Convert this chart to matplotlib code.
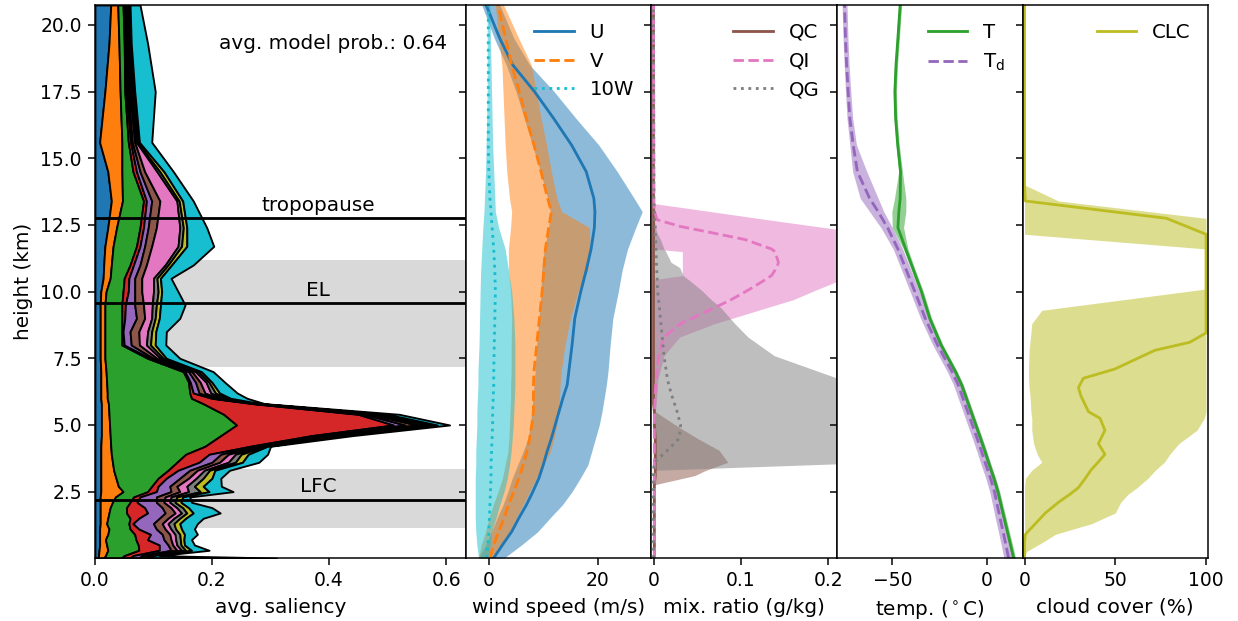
import numpy as np
import matplotlib.pyplot as plt

# --- saliency (panel 1), stacked per input variable ---
h_sal = [0.01, 0.1, 0.3, 0.5, 0.7, 0.9, 1.1, 1.3, 1.5, 1.7, 1.9, 2.1, 2.3, 2.5, 2.7,
         3.0, 3.3, 3.6, 3.9, 4.2, 4.6, 5.0, 5.4, 5.8, 6.0, 6.2, 6.6, 7.0, 7.5, 8.0,
         8.5, 9.0, 9.5, 10.0, 10.5, 11.0, 11.7, 12.4, 13.4, 14.5, 15.6, 17.5, 19.3, 20.75]

sal_blue = [.006, .006, .007, .008, .008, .008, .008, .009, .009, .009, .009,
            .009, .009, .010, .010, .010, .010, .010, .010, .010, .011, .011, .011, .011,
            .010, .010, .010, .010, .009, .009, .009, .009, .009, .010,
            .014, .015, .017, .022, .028, .022, .008, .017, .024, .027]
sal_orange = [.009, .012, .015, .012, .010, .014, .016, .011, .013, .015, .017,
              .021, .026, .038, .030, .026, .022, .020, .018, .017, .015, .014, .013, .012,
              .011, .011, .010, .009, .008, .008, .008, .008, .008, .009,
              .012, .013, .014, .015, .019, .024, .038, .026, .017, .012]
sal_green = [.030, .032, .053, .054, .052, .046, .036, .038, .038, .030, .028,
             .030, .031, .042, .057, .072, .093, .110, .127, .161, .189, .217, .196, .162,
             .144, .141, .140, .132, .073, .029, .029, .029, .029, .029,
             .024, .032, .040, .040, .036, .019, .011, .008, .009, .009]
sal_red = [.015, .015, .035, .036, .020, .027, .015, .007, .015, .036, .031,
           .012, .011, .015, .011, .014, .017, .038, .040, .077, .155, .268, .230, .085,
           .035, .006, .003, .003, .005, .004, .002, .005, .006, .009,
           .008, .006, .006, .006, .005, .006, .004, .003, .003, .003]
sal_purple = [.015, .015, .020, .015, .028, .020, .030, .035, .035, .030, .030,
              .033, .028, .025, .020, .023, .020, .022, .020, .007, .015, .020, .010, .004,
              .005, .010, .009, .006, .005, .012, .012, .020, .016, .011,
              .010, .011, .008, .008, .009, .006, .003, .003, .002, .002]
sal_brown = [.005, .005, .010, .008, .012, .013, .015, .015, .015, .017, .015,
             .013, .015, .015, .012, .015, .013, .013, .013, .006, .010, .020, .010, .003,
             .007, .010, .008, .006, .006, .014, .015, .014, .015, .012,
             .012, .011, .012, .014, .014, .008, .004, .003, .002, .002]
sal_pink = [.005, .005, .008, .007, .008, .009, .010, .010, .010, .011, .010,
            .010, .010, .015, .017, .013, .012, .015, .012, .006, .010, .015, .010, .003,
            .008, .010, .010, .006, .006, .012, .015, .012, .015, .020,
            .020, .032, .045, .040, .029, .021, .003, .003, .002, .002]
sal_gray = [.005, .005, .007, .007, .008, .008, .008, .010, .010, .009, .010,
            .009, .010, .020, .013, .012, .009, .012, .010, .006, .007, .010, .010, .002,
            .006, .008, .005, .005, .005, .007, .007, .006, .007, .008,
            .006, .005, .006, .006, .004, .005, .002, .002, .001, .001]
sal_olive = [.005, .005, .010, .006, .006, .008, .010, .010, .010, .011, .010,
             .010, .010, .015, .015, .015, .009, .012, .012, .005, .008, .010, .010, .002,
             .006, .007, .005, .005, .005, .008, .007, .007, .007, .006,
             .006, .006, .009, .006, .006, .007, .003, .003, .002, .002]
sal_cyan = [.215, .010, .030, .017, .013, .022, .022, .030, .030, .046, .040,
            .018, .012, .041, .031, .015, .025, .028, .033, .005, .020, .021, .020, .006,
            .028, .030, .022, .020, .023, .018, .018, .035, .042, .028,
            .018, .037, .046, .034, .018, .016, .021, .035, .028, .017]

model_prob = 0.64
tropopause = 12.75
el_height = 9.56
lfc_height = 2.2
el_band = (7.16, 11.18)
lfc_band = (1.15, 3.33)

# --- profiles (panels 2 and 4) ---
h_prof = [0.01, 0.5, 1.0, 1.5, 2.0, 2.5, 3.0, 3.5, 4.0, 4.5, 5.0, 5.5, 6.0, 6.5, 7.0,
          8.0, 9.0, 10.0, 10.8, 11.6, 12.4, 13.0, 13.5, 14.5, 15.5, 16.5, 17.5, 18.5, 19.5, 20.75]

u_mean = [0.9, 2.5, 4.2, 5.5, 6.9, 8.1, 9.2, 10.0, 10.7, 11.5, 12.2, 12.9, 13.6, 14.4, 14.7,
          15.3, 15.8, 16.9, 17.9, 18.8, 19.4, 19.5, 19.3, 17.9, 15.2, 11.9, 8.4, 4.4, 2.0, -0.5]
u_lo = [-1.9, -0.6, 0.5, 1.5, 2.6, 3.5, 4.3, 5.3, 6.3, 7.2, 7.6, 7.9, 8.1, 8.3, 8.5,
        8.8, 9.2, 9.6, 9.7, 10.2, 11.0, 11.3, 10.8, 9.5, 8.0, 6.5, 5.0, 3.2, 1.0, -1.3]
u_hi = [2.8, 6.0, 9.0, 11.2, 13.5, 15.3, 16.8, 18.2, 18.9, 19.6, 20.3, 20.8, 21.2, 21.6, 21.9,
        22.3, 22.8, 23.8, 24.5, 25.5, 27.0, 28.2, 26.7, 23.6, 20.2, 16.0, 12.0, 7.5, 4.6, 2.0]

v_mean = [0.2, 0.9, 1.8, 2.8, 3.6, 4.6, 5.5, 6.3, 7.0, 7.5, 7.9, 8.2, 8.2, 8.2, 8.3,
          8.8, 9.3, 9.8, 10.1, 10.4, 11.0, 11.5, 10.8, 9.6, 8.3, 6.9, 5.6, 4.2, 3.1, 1.7]
v_lo = [-1.9, -1.4, -0.6, 0.0, 0.8, 1.7, 2.5, 3.0, 3.5, 3.7, 3.8, 3.9, 4.0, 4.0, 4.1,
        4.1, 4.2, 4.0, 3.6, 3.6, 4.0, 4.2, 3.8, 3.3, 3.0, 2.8, 2.6, 2.4, 1.8, 1.2]
v_hi = [0.5, 2.3, 3.8, 5.0, 6.3, 7.5, 8.7, 10.0, 11.3, 12.0, 12.5, 12.8, 13.0, 13.1, 13.3,
        14.0, 15.0, 16.4, 18.2, 18.6, 18.5, 13.4, 12.5, 11.5, 10.6, 9.6, 8.7, 7.8, 5.5, 2.7]

w_mean = [-0.4, -0.2, 0.0, 0.1, 0.2, 0.3, 0.4, 0.4, 0.5, 0.6, 0.7, 0.7, 0.8, 0.9, 0.9,
          1.0, 1.1, 1.2, 1.1, 0.9, 0.6, 0.4, 0.2, 0.0, -0.1, -0.1, -0.1, -0.1, -0.1, -0.1]
w_lo = [-1.9, -2.2, -2.4, -2.5, -2.5, -2.5, -2.5, -2.4, -2.4, -2.3, -2.2, -2.2, -2.1, -2.0, -2.0,
        -1.8, -1.7, -1.6, -1.5, -1.3, -1.1, -0.9, -0.8, -0.6, -0.5, -0.4, -0.3, -0.3, -0.3, -0.3]
w_hi = [-0.2, 0.3, 0.5, 1.3, 2.0, 2.8, 3.4, 3.8, 4.1, 4.3, 4.5, 4.6, 4.7, 4.8, 4.8,
        4.8, 4.6, 4.2, 3.6, 3.0, 1.8, 1.2, 1.1, 0.9, 0.7, 0.6, 0.5, 0.4, 0.3, 0.2]

t_mean = [14.4, 12.8, 11.1, 9.4, 7.7, 6.0, 3.9, 1.5, -0.8, -3.2, -5.7, -8.2, -10.7, -13.2, -16.5,
          -24.1, -30.1, -34.5, -38.7, -42.9, -47.0, -46.5, -45.8, -45.6, -47.1, -48.2, -48.6, -48.0, -47.0, -45.8]
t_lo = [13.4, 11.8, 10.1, 8.4, 6.7, 5.0, 2.9, 0.5, -1.8, -4.2, -6.7, -9.2, -11.7, -14.2, -17.5,
        -25.1, -31.1, -35.5, -39.7, -44.1, -50.0, -50.2, -48.8, -46.6, -47.9, -49.0, -49.4, -48.8, -47.8, -46.6]
t_hi = [15.4, 13.8, 12.1, 10.4, 8.7, 7.0, 4.9, 2.5, 0.2, -2.2, -4.7, -7.2, -9.7, -12.2, -15.5,
        -23.1, -29.1, -33.5, -37.7, -41.7, -44.0, -42.8, -42.8, -44.6, -46.3, -47.4, -47.8, -47.2, -46.2, -45.0]

td_mean = [11.7, 10.3, 8.8, 7.2, 5.7, 4.2, 2.1, -0.3, -2.6, -5.0, -7.5, -10.0, -12.5, -15.0, -18.3,
           -26.0, -32.5, -38.0, -42.5, -47.0, -52.5, -57.5, -62.0, -68.5, -70.7, -72.5, -73.4, -74.2, -74.8, -75.3]
td_lo = [9.2, 7.8, 6.3, 4.7, 3.2, 1.7, -0.4, -2.8, -5.1, -7.5, -10.0, -12.5, -15.0, -17.5, -20.8,
         -28.5, -35.0, -40.5, -45.0, -49.5, -56.0, -62.0, -67.0, -71.0, -72.5, -74.0, -74.8, -75.5, -76.1, -76.6]
td_hi = [14.2, 12.8, 11.3, 9.7, 8.2, 6.7, 4.6, 2.2, -0.1, -2.5, -5.0, -7.5, -10.0, -12.5, -15.8,
         -23.5, -30.0, -35.5, -40.0, -44.5, -50.0, -54.5, -57.5, -63.5, -69.0, -71.0, -72.0, -72.9, -73.5, -74.0]

# --- mixing ratios (panel 3) ---
h_mix = [0.01, 2.5, 2.75, 3.1, 3.3, 3.6, 4.05, 4.5, 5.0, 5.5, 5.8, 6.2, 6.7, 7.6, 8.3, 8.8,
         9.4, 9.7, 10.05, 10.45, 10.6, 10.9, 11.1, 11.5, 11.6, 11.95, 12.2, 12.45, 12.7, 13.05, 13.3, 20.75]

qc_mean = [0.001, 0.001, 0.001, 0.002, 0.002, 0.002, 0.002, 0.002, 0.001, 0.001, 0.0, 0.0, 0.0, 0.0, 0.0, 0.0,
           0.0, 0.0, 0.0, 0.0, 0.0, 0.0, 0.0, 0.0, 0.0, 0.0, 0.0, 0.0, 0.0, 0.0, 0.0, 0.0]
qc_lo = [0.0, 0.0, 0.0, 0.0, 0.0, 0.0, 0.0, 0.0, 0.0, 0.0, 0.0, 0.0, 0.0, 0.0, 0.0, 0.0,
         0.0, 0.0, 0.0, 0.0, 0.0, 0.0, 0.0, 0.0, 0.0, 0.0, 0.0, 0.0, 0.0, 0.0, 0.0, 0.0]
qc_hi = [0.0, 0.0, 0.0, 0.047, 0.06, 0.085, 0.075, 0.05, 0.025, 0.002, 0.0, 0.0, 0.0, 0.0, 0.0, 0.0,
         0.0, 0.0, 0.0, 0.0, 0.0, 0.0, 0.0, 0.0, 0.0, 0.0, 0.0, 0.0, 0.0, 0.0, 0.0, 0.0]

qi_mean = [0.001, 0.001, 0.001, 0.001, 0.001, 0.001, 0.001, 0.001, 0.001, 0.0012, 0.0015, 0.002, 0.003, 0.006, 0.012, 0.031,
           0.070, 0.089, 0.108, 0.128, 0.135, 0.141, 0.143, 0.139, 0.135, 0.105, 0.068, 0.030, 0.004, 0.001, 0.0005, 0.0]
qi_lo = [0.0, 0.0, 0.0, 0.0, 0.0, 0.0, 0.0, 0.0, 0.0, 0.0, 0.0, 0.0, 0.0, 0.0, 0.0, 0.0,
         0.0, 0.0, 0.0, 0.0, 0.033, 0.033, 0.033, 0.033, 0.0, 0.0, 0.0, 0.0, 0.0, 0.0, 0.0, 0.0]
qi_hi = [0.001, 0.001, 0.001, 0.001, 0.001, 0.001, 0.001, 0.001, 0.001, 0.002, 0.003, 0.004, 0.005, 0.012, 0.03, 0.07,
         0.13, 0.16, 0.185, 0.215, 0.25, 0.28, 0.30, 0.32, 0.33, 0.30, 0.24, 0.185, 0.13, 0.055, 0.001, 0.0]

qg_mean = [0.0, 0.0, 0.0, 0.0, 0.0, 0.001, 0.016, 0.0295, 0.031, 0.027, 0.024, 0.02, 0.016, 0.012, 0.010, 0.0084,
           0.0068, 0.0058, 0.0046, 0.0042, 0.004, 0.0036, 0.0033, 0.003, 0.0028, 0.0025, 0.002, 0.002, 0.0015, 0.001, 0.0005, 0.0]
qg_lo = [0.0, 0.0, 0.0, 0.0, 0.0, 0.0, 0.0, 0.0, 0.0, 0.0, 0.0, 0.0, 0.0, 0.0, 0.0, 0.0,
         0.0, 0.0, 0.0, 0.0, 0.0, 0.0, 0.0, 0.0, 0.0, 0.0, 0.0, 0.0, 0.0, 0.0, 0.0, 0.0]
qg_hi = [0.0, 0.0, 0.0, 0.0, 0.0, 0.26, 0.27, 0.27, 0.27, 0.27, 0.26, 0.25, 0.215, 0.138, 0.108, 0.093,
         0.077, 0.066, 0.055, 0.04, 0.034, 0.03, 0.02, 0.014, 0.012, 0.008, 0.004, 0.002, 0.001, 0.0, 0.0, 0.0]

# --- cloud cover (panel 5) ---
h_clc = [0.01, 0.25, 0.6, 0.9, 1.3, 1.7, 2.1, 2.4, 2.65, 3.0, 3.3, 3.6, 3.9, 4.3, 4.8, 5.25, 5.5,
         6.1, 6.4, 6.75, 7.1, 7.8, 8.1, 8.45, 8.8, 9.3, 10.1, 11.6, 12.15, 12.75, 13.4, 14.0, 20.75]
clc_mean = [0, 0, 0, 0.5, 6, 11.5, 18.7, 25, 29.7, 33.5, 36.5, 40.5, 44.3, 40.7, 44.3, 41.6, 35.2,
            31, 29.7, 32.4, 49.8, 71.8, 91, 100, 100, 100, 100, 100, 100, 78.2, 0.4, 0, 0]
clc_lo = [0, 0, 0, 0, 0, 0, 0, 0, 0, 0.5, 4, 9.5, 7, 5, 4, 4, 3.5,
          3, 2.5, 2.2, 2.2, 2.5, 3, 3.5, 4, 9.5, 100, 100, 0, 0, 0, 0, 0]
clc_hi = [0, 1, 10, 17, 37, 50, 53, 57, 62, 68, 72, 77, 80, 85, 95, 99, 100,
          100, 100, 100, 100, 100, 100, 100, 100, 100, 100, 100, 100, 100, 18.7, 0, 0]

plt.rcParams['font.size'] = 10.7
plt.rcParams['xtick.labelsize'] = 10
plt.rcParams['ytick.labelsize'] = 10
plt.rcParams['legend.fontsize'] = 10.5

DPI = 135
fig, axes = plt.subplots(1, 5, sharey=True, figsize=(1238 / DPI, 621 / DPI), dpi=DPI,
                         gridspec_kw=dict(width_ratios=[2, 1, 1, 1, 1], wspace=0))
fig.subplots_adjust(left=0.0767, right=0.9758, top=0.992, bottom=0.1014)
ax1, ax2, ax3, ax4, ax5 = axes

# panel 1: stacked saliency
layers = [sal_blue, sal_orange, sal_green, sal_red, sal_purple,
          sal_brown, sal_pink, sal_gray, sal_olive, sal_cyan]
left = np.zeros(len(h_sal))
for i, layer in enumerate(layers):
    right = left + np.array(layer)
    ax1.fill_betweenx(h_sal, left, right, facecolor=f'C{i}', edgecolor='k', lw=1.0, zorder=2)
    left = right

ax1.axhspan(*el_band, color='0.85', lw=0, zorder=0)
ax1.axhspan(*lfc_band, color='0.85', lw=0, zorder=0)
for yy, name in [(tropopause, 'tropopause'), (el_height, 'EL'), (lfc_height, 'LFC')]:
    ax1.axhline(yy, color='k', lw=1.5, zorder=3)
    ax1.text(0.381, yy + 0.12, name, ha='center', va='bottom', zorder=4)
ax1.text(0.95, 0.93, f'avg. model prob.: {model_prob:.2f}', ha='right', va='center',
         transform=ax1.transAxes)
ax1.set_xlim(0, 0.634)
ax1.set_xticks([0.0, 0.2, 0.4, 0.6])
ax1.set_xlabel('avg. saliency')
ax1.set_ylabel('height (km)')

# panel 2: wind
for m, lo, hi, c, ls, lab in [(u_mean, u_lo, u_hi, 'C0', '-', 'U'),
                              (v_mean, v_lo, v_hi, 'C1', '--', 'V'),
                              (w_mean, w_lo, w_hi, 'C9', ':', '10W')]:
    ax2.fill_betweenx(h_prof, lo, hi, color=c, alpha=0.5, lw=0)
    ax2.plot(m, h_prof, color=c, ls=ls, label=lab)
ax2.set_xlim(-4.2, 29.9)
ax2.set_xticks([0, 20])
ax2.set_xlabel('wind speed (m/s)')

# panel 3: mixing ratios
for m, lo, hi, c, ls, lab in [(qc_mean, qc_lo, qc_hi, 'C5', '-', 'QC'),
                              (qi_mean, qi_lo, qi_hi, 'C6', '--', 'QI'),
                              (qg_mean, qg_lo, qg_hi, 'C7', ':', 'QG')]:
    ax3.fill_betweenx(h_mix, lo, hi, color=c, alpha=0.5, lw=0)
    ax3.plot(m, h_mix, color=c, ls=ls, label=lab)
ax3.set_xlim(-0.0023, 0.21)
ax3.set_xticks([0, 0.1, 0.2], ['0', '0.1', '0.2'])
ax3.set_xlabel('mix. ratio (g/kg)')

# panel 4: temperature
for m, lo, hi, c, ls, lab in [(t_mean, t_lo, t_hi, 'C2', '-', 'T'),
                              (td_mean, td_lo, td_hi, 'C4', '--', r'T$_\mathrm{d}$')]:
    ax4.fill_betweenx(h_prof, lo, hi, color=c, alpha=0.5, lw=0)
    ax4.plot(m, h_prof, color=c, ls=ls, label=lab)
ax4.set_xlim(-79.3, 19.1)
ax4.set_xticks([-50, 0])
ax4.set_xlabel(r'temp. ($^\circ$C)')

# panel 5: cloud cover
ax5.fill_betweenx(h_clc, clc_lo, clc_hi, color='C8', alpha=0.5, lw=0)
ax5.plot(clc_mean, h_clc, color='C8', label='CLC')
ax5.set_xlim(-1.1, 101.1)
ax5.set_xticks([0, 50, 100])
ax5.set_xlabel('cloud cover (%)')

for ax in axes[1:]:
    ax.legend(loc='upper right', frameon=False)

ax1.set_ylim(0.01, 20.75)
ax1.set_yticks([2.5, 5.0, 7.5, 10.0, 12.5, 15.0, 17.5, 20.0])

fig.savefig('out.png', dpi=DPI)
